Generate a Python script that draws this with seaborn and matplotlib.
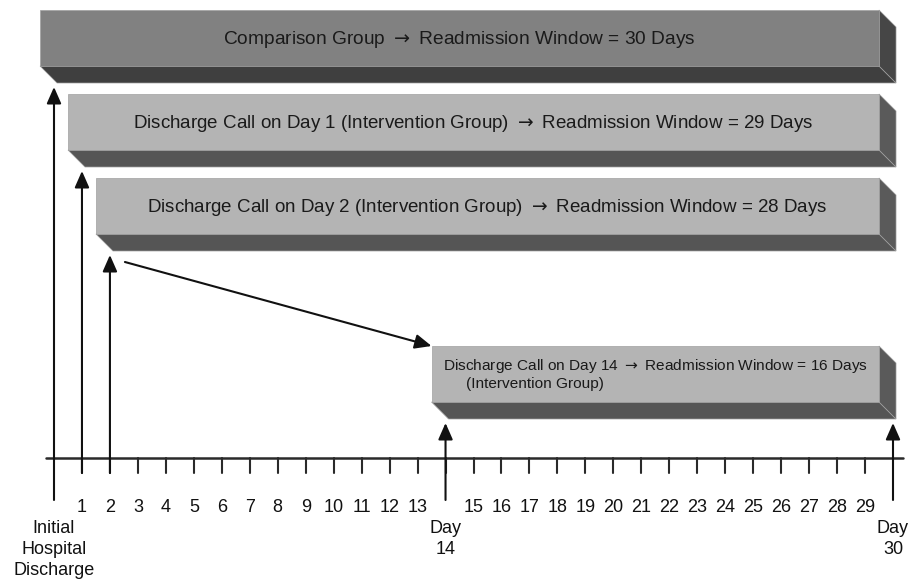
import matplotlib
matplotlib.use("Agg")
import numpy as np
import seaborn as sns
import matplotlib.pyplot as plt
from matplotlib.patches import Polygon

# data
start_days = [0, 1, 2, 14]
end_day = 30
bar_rows = [0, 1, 2, 4]
arr = r" $\rightarrow$ "
bar_labels = [
    "Comparison Group" + arr + "Readmission Window = 30 Days",
    "Discharge Call on Day 1 (Intervention Group)" + arr + "Readmission Window = 29 Days",
    "Discharge Call on Day 2 (Intervention Group)" + arr + "Readmission Window = 28 Days",
    "Discharge Call on Day 14" + arr + "Readmission Window = 16 Days",
]
bar4_sub = "(Intervention Group)"
tick_days = [d for d in range(1, 30)]
num_label_days = [d for d in range(1, 30) if d != 14]
special_days = [0, 14, 30]
special_labels = ["Initial\nHospital\nDischarge", "Day\n14", "Day\n30"]

sns.set_theme(style="white")
plt.rcParams["font.family"] = ["Liberation Sans", "DejaVu Sans"]
plt.rcParams["mathtext.fontset"] = "dejavusans"

W, H = 922, 582
fig = plt.figure(figsize=(W / 100, H / 100), dpi=100)
ax = fig.add_axes([0, 0, 1, 1])
px_day = (893 - 54) / 30.0
ax.set_xlim(-54 / px_day, (W - 54) / px_day)
ax.set_ylim(H, 0)
ax.axis("off")

# layout (pixels in y, days in x)
row_top0 = 10
row_step = 84
face_h = 56
dy = 17
dx = dy / px_day

front_cols = ["#818181", "#b4b4b4", "#b4b4b4", "#b4b4b4"]
bottom_cols = ["#3f3f3f", "#555555", "#555555", "#555555"]
side_cols = ["#464646", "#5a5a5a", "#5a5a5a", "#5a5a5a"]

for i, (s, r) in enumerate(zip(start_days, bar_rows)):
    top = row_top0 + r * row_step
    bot = top + face_h
    x0 = s - 0.5
    x1 = end_day - 0.5
    ax.add_patch(Polygon([(x0, bot), (x1, bot), (x1 + dx, bot + dy), (x0 + dx, bot + dy)],
                         closed=True, fc=bottom_cols[i], ec="#a0a0a0", lw=0.5, zorder=2))
    ax.add_patch(Polygon([(x1, top), (x1 + dx, top + dy), (x1 + dx, bot + dy), (x1, bot)],
                         closed=True, fc=side_cols[i], ec="#a0a0a0", lw=0.5, zorder=2))
    ax.barh(top + face_h / 2, x1 - x0, left=x0, height=face_h,
            color=front_cols[i], edgecolor="#a0a0a0", linewidth=0.5, zorder=3)
    if i < 3:
        ax.text((x0 + x1) / 2, top + face_h / 2 + 2, bar_labels[i], ha="center", va="center",
                fontsize=13.5 if i else 13.8, color="#1a1a1a", zorder=4)
    else:
        ax.text(x0 + 11 / px_day, top + 20, bar_labels[i], ha="left", va="center",
                fontsize=11.1, color="#1a1a1a", zorder=4)
        ax.text(x0 + 34 / px_day, top + 38, bar4_sub, ha="left", va="center",
                fontsize=11.1, color="#1a1a1a", zorder=4)

# timeline axis
axis_y = 458
ax.plot([-8 / px_day, end_day + 10 / px_day], [axis_y, axis_y], color="#2a2a2a", lw=1.8, zorder=1)
for d in tick_days:
    ax.plot([d, d], [axis_y, axis_y + 15], color="#2a2a2a", lw=1.5, zorder=1)
for d in num_label_days:
    ax.text(d, 508, str(d), ha="center", va="center", fontsize=13, color="#111111")
for d, lab in zip(special_days, special_labels):
    ax.text(d, 520, lab, ha="center", va="top", fontsize=13, color="#111111", linespacing=1.3)

# vertical arrows up to each bar
arrow_props = dict(arrowstyle="-|>,head_length=0.5,head_width=0.22", color="#111111",
                   lw=1.5, shrinkA=0, shrinkB=0, mutation_scale=20)
arrow_days = [0, 1, 2, 14, 30]
arrow_rows = [0, 1, 2, 4, 4]
arrow_from = [500, 473, 473, 500, 500]
for d, r, y0 in zip(arrow_days, arrow_rows, arrow_from):
    tip = row_top0 + r * row_step + face_h + dy + 4
    ax.annotate("", xy=(d, tip), xytext=(d, y0), arrowprops=arrow_props, zorder=5)

# diagonal arrow from day 2 to the day 14 bar
ax.annotate("", xy=(14 - 0.5, row_top0 + 4 * row_step),
            xytext=(2 + 15 / px_day, row_top0 + 2 * row_step + face_h + dy + 11),
            arrowprops=arrow_props, zorder=5)

fig.savefig("out.png", dpi=100, facecolor="white")
